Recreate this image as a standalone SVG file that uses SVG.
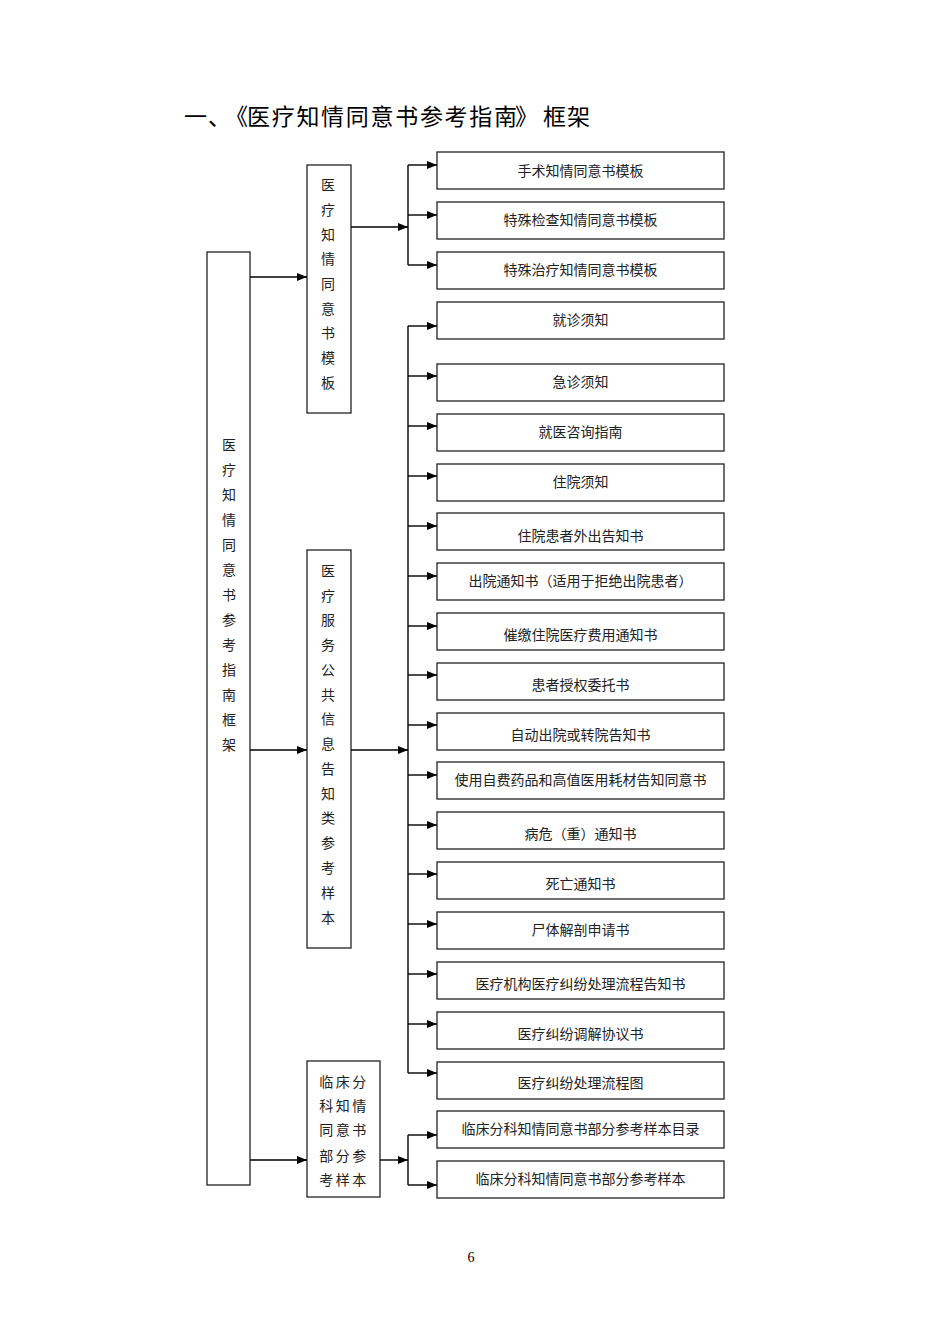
<svg xmlns="http://www.w3.org/2000/svg" width="950" height="1344" viewBox="0 0 950 1344">
<style>
.box{fill:#fff;stroke:#222;stroke-width:1.3}
.t{font-family:"Noto Sans CJK SC","Noto Sans",sans-serif;font-size:14px;fill:#222;text-anchor:middle}
.ln{fill:none;stroke:#000;stroke-width:1.4}
.title{font-family:"Noto Sans CJK SC","Noto Sans",sans-serif;font-size:23px;fill:#000}
</style>
<defs>
<marker id="ah" viewBox="0 0 10 8" refX="10" refY="4" markerWidth="10" markerHeight="8" markerUnits="userSpaceOnUse" orient="auto">
<path d="M0,0 L10,4 L0,8 z" fill="#000"/>
</marker>
</defs>
<rect width="950" height="1344" fill="#fff"/>
<text class="title" x="184 208 225 247 271.7 296.4 321.1 345.8 370.5 395.2 419.9 444.6 469.3 494 515 543 567" y="125">一、《医疗知情同意书参考指南》框架</text>

<g id="root">
<rect class="box" x="207" y="252" width="43" height="933"/>
<text class="t" x="229" y="450">医</text><text class="t" x="229" y="475">疗</text><text class="t" x="229" y="500">知</text><text class="t" x="229" y="525">情</text><text class="t" x="229" y="550">同</text><text class="t" x="229" y="575">意</text><text class="t" x="229" y="600">书</text><text class="t" x="229" y="625">参</text><text class="t" x="229" y="650">考</text><text class="t" x="229" y="675">指</text><text class="t" x="229" y="700">南</text><text class="t" x="229" y="725">框</text><text class="t" x="229" y="750">架</text>
</g>

<g id="cat1">
<rect class="box" x="307" y="165" width="44" height="248"/>
<text class="t" x="328" y="190">医</text><text class="t" x="328" y="215">疗</text><text class="t" x="328" y="240">知</text><text class="t" x="328" y="264">情</text><text class="t" x="328" y="289">同</text><text class="t" x="328" y="314">意</text><text class="t" x="328" y="338">书</text><text class="t" x="328" y="363">模</text><text class="t" x="328" y="388">板</text>
</g>

<g id="cat2">
<rect class="box" x="307" y="550" width="44" height="398"/>
<text class="t" x="328" y="576">医</text><text class="t" x="328" y="601">疗</text><text class="t" x="328" y="625">服</text><text class="t" x="328" y="650">务</text><text class="t" x="328" y="675">公</text><text class="t" x="328" y="700">共</text><text class="t" x="328" y="724">信</text><text class="t" x="328" y="749">息</text><text class="t" x="328" y="774">告</text><text class="t" x="328" y="799">知</text><text class="t" x="328" y="823">类</text><text class="t" x="328" y="848">参</text><text class="t" x="328" y="873">考</text><text class="t" x="328" y="898">样</text><text class="t" x="328" y="923">本</text>
</g>

<g id="cat3">
<rect class="box" x="307" y="1061" width="73" height="136"/>
<text class="t" x="344" y="1087" letter-spacing="2.5">临床分</text>
<text class="t" x="344" y="1111" letter-spacing="2.5">科知情</text>
<text class="t" x="344" y="1135" letter-spacing="2.5">同意书</text>
<text class="t" x="344" y="1161" letter-spacing="2.5">部分参</text>
<text class="t" x="344" y="1185" letter-spacing="2.5">考样本</text>
</g>

<g id="n1"><rect class="box" x="437" y="152" width="287" height="37"/><text class="t" x="580.5" y="176">手术知情同意书模板</text></g>
<g id="n2"><rect class="box" x="437" y="202" width="287" height="37"/><text class="t" x="580.5" y="225">特殊检查知情同意书模板</text></g>
<g id="n3"><rect class="box" x="437" y="252" width="287" height="37"/><text class="t" x="580.5" y="275">特殊治疗知情同意书模板</text></g>
<g id="n4"><rect class="box" x="437" y="302" width="287" height="37"/><text class="t" x="580.5" y="325">就诊须知</text></g>
<g id="n5"><rect class="box" x="437" y="364" width="287" height="37"/><text class="t" x="580.5" y="387">急诊须知</text></g>
<g id="n6"><rect class="box" x="437" y="414" width="287" height="37"/><text class="t" x="580.5" y="437">就医咨询指南</text></g>
<g id="n7"><rect class="box" x="437" y="464" width="287" height="37"/><text class="t" x="580.5" y="487">住院须知</text></g>
<g id="n8"><rect class="box" x="437" y="513" width="287" height="37"/><text class="t" x="580.5" y="541">住院患者外出告知书</text></g>
<g id="n9"><rect class="box" x="437" y="563" width="287" height="37"/><text class="t" x="580.5" y="586">出院通知书（适用于拒绝出院患者）</text></g>
<g id="n10"><rect class="box" x="437" y="613" width="287" height="37"/><text class="t" x="580.5" y="640">催缴住院医疗费用通知书</text></g>
<g id="n11"><rect class="box" x="437" y="663" width="287" height="37"/><text class="t" x="580.5" y="690">患者授权委托书</text></g>
<g id="n12"><rect class="box" x="437" y="713" width="287" height="37"/><text class="t" x="580.5" y="740">自动出院或转院告知书</text></g>
<g id="n13"><rect class="box" x="437" y="762" width="287" height="37"/><text class="t" x="580.5" y="785">使用自费药品和高值医用耗材告知同意书</text></g>
<g id="n14"><rect class="box" x="437" y="812" width="287" height="37"/><text class="t" x="580.5" y="839">病危（重）通知书</text></g>
<g id="n15"><rect class="box" x="437" y="862" width="287" height="37"/><text class="t" x="580.5" y="889">死亡通知书</text></g>
<g id="n16"><rect class="box" x="437" y="912" width="287" height="37"/><text class="t" x="580.5" y="935">尸体解剖申请书</text></g>
<g id="n17"><rect class="box" x="437" y="962" width="287" height="37"/><text class="t" x="580.5" y="989">医疗机构医疗纠纷处理流程告知书</text></g>
<g id="n18"><rect class="box" x="437" y="1012" width="287" height="37"/><text class="t" x="580.5" y="1039">医疗纠纷调解协议书</text></g>
<g id="n19"><rect class="box" x="437" y="1062" width="287" height="37"/><text class="t" x="580.5" y="1088">医疗纠纷处理流程图</text></g>
<g id="n20"><rect class="box" x="437" y="1111" width="287" height="37"/><text class="t" x="580.5" y="1134">临床分科知情同意书部分参考样本目录</text></g>
<g id="n21"><rect class="box" x="437" y="1161" width="287" height="37"/><text class="t" x="580.5" y="1184">临床分科知情同意书部分参考样本</text></g>

<g id="connectors">
<path class="ln" d="M250,277 H307" marker-end="url(#ah)"/>
<path class="ln" d="M250,750 H307" marker-end="url(#ah)"/>
<path class="ln" d="M250,1160 H307" marker-end="url(#ah)"/>
<path class="ln" d="M351,227 H408" marker-end="url(#ah)"/>
<path class="ln" d="M351,750 H408" marker-end="url(#ah)"/>
<path class="ln" d="M380,1160 H408" marker-end="url(#ah)"/>
<path class="ln" d="M408,165 V265"/>
<path class="ln" d="M408,326 V1073"/>
<path class="ln" d="M408,1135 V1185"/>
<path class="ln" d="M408,165 H437" marker-end="url(#ah)"/>
<path class="ln" d="M408,215 H437" marker-end="url(#ah)"/>
<path class="ln" d="M408,265 H437" marker-end="url(#ah)"/>
<path class="ln" d="M408,326 H437" marker-end="url(#ah)"/>
<path class="ln" d="M408,376 H437" marker-end="url(#ah)"/>
<path class="ln" d="M408,426 H437" marker-end="url(#ah)"/>
<path class="ln" d="M408,476 H437" marker-end="url(#ah)"/>
<path class="ln" d="M408,526 H437" marker-end="url(#ah)"/>
<path class="ln" d="M408,576 H437" marker-end="url(#ah)"/>
<path class="ln" d="M408,626 H437" marker-end="url(#ah)"/>
<path class="ln" d="M408,675 H437" marker-end="url(#ah)"/>
<path class="ln" d="M408,725 H437" marker-end="url(#ah)"/>
<path class="ln" d="M408,775 H437" marker-end="url(#ah)"/>
<path class="ln" d="M408,825 H437" marker-end="url(#ah)"/>
<path class="ln" d="M408,874 H437" marker-end="url(#ah)"/>
<path class="ln" d="M408,924 H437" marker-end="url(#ah)"/>
<path class="ln" d="M408,974 H437" marker-end="url(#ah)"/>
<path class="ln" d="M408,1024 H437" marker-end="url(#ah)"/>
<path class="ln" d="M408,1073 H437" marker-end="url(#ah)"/>
<path class="ln" d="M408,1135 H437" marker-end="url(#ah)"/>
<path class="ln" d="M408,1185 H437" marker-end="url(#ah)"/>
</g>

<text x="471" y="1262" font-family="Liberation Serif, serif" font-size="14" text-anchor="middle" fill="#000">6</text>
</svg>
